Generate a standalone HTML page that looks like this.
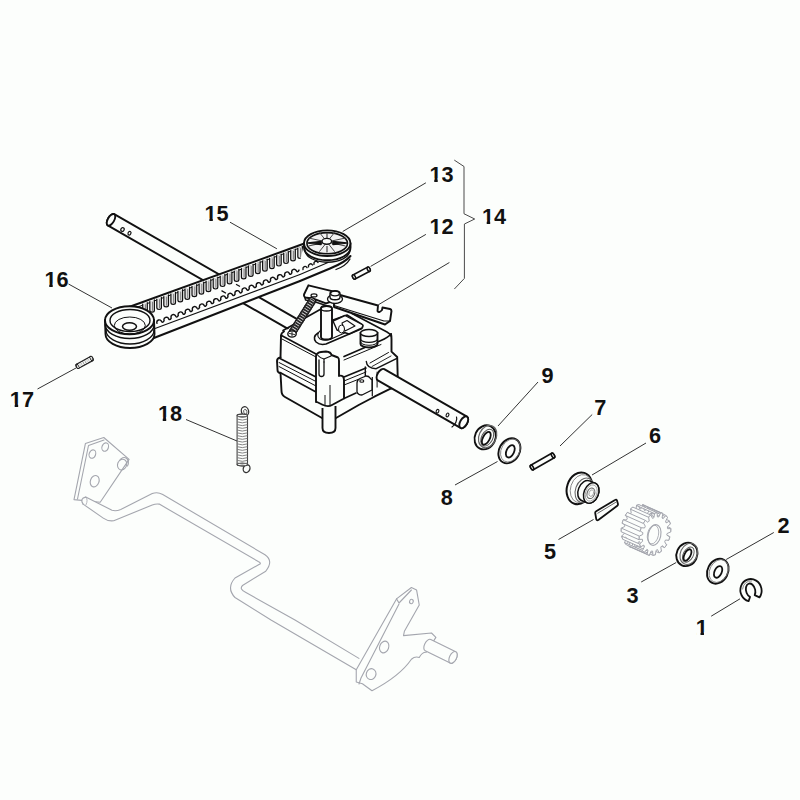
<!DOCTYPE html><html><head><meta charset="utf-8"><style>html,body{margin:0;padding:0;background:#fcfefc;}svg{display:block;}</style></head><body><svg width="800" height="800" viewBox="0 0 800 800"><rect width="800" height="800" fill="#fcfefc"/><path d="M74.0,499.6 L85.4,443.6 L103.8,437.5 L129.1,459.4 L100.2,502.2 Z" stroke="#a4a6ae" stroke-width="1.1" fill="#fcfefc" stroke-linejoin="round" stroke-linecap="round" /><path d="M77.5,499 L88.5,445.5 L104,440" stroke="#a4a6ae" stroke-width="1.1" fill="none" stroke-linejoin="round" stroke-linecap="round" /><ellipse cx="92.4" cy="454.1" rx="3.2" ry="4.3" transform="rotate(20 92.4 454.1)" stroke="#a4a6ae" stroke-width="1.1" fill="none"/><ellipse cx="105.2" cy="447.1" rx="3.2" ry="4.3" transform="rotate(20 105.2 447.1)" stroke="#a4a6ae" stroke-width="1.1" fill="none"/><ellipse cx="122.1" cy="464.6" rx="4.5" ry="5.5" transform="rotate(20 122.1 464.6)" stroke="#a4a6ae" stroke-width="1.1" fill="none"/><path d="M119.5,460.5 A4.5,5.5 20 0 1 127.5,466" stroke="#a4a6ae" stroke-width="1.1" fill="none" stroke-linejoin="round" stroke-linecap="round" /><ellipse cx="94.7" cy="481.2" rx="4.3" ry="5.8" transform="rotate(20 94.7 481.2)" stroke="#a4a6ae" stroke-width="1.1" fill="none"/><path d="M85.75,497.1 L112,510.25 Q116,511.5 120.75,509.4 L152.25,493.6 Q157.5,491.5 162.75,494.5 L265,554.75 Q274,561 265.75,571.25 L242.5,585.5 Q239,589 245.5,592.25 L295,620 L358.9,658.4 L356.25,669.75 L271,620 L235,597.5 Q226,588 235,578 L259,564.5 Q262,563.5 258.25,561.5 L159.25,504.1 Q156,503.5 152.25,505 L113.75,520.75 Q108,521.5 103.25,518.1 L83.1,504.1 Q80,499 85.75,497.1 Z" stroke="none" stroke-width="0" fill="#fcfefc" stroke-linejoin="round" stroke-linecap="round" /><path d="M85.75,497.1 L112,510.25 Q116,511.5 120.75,509.4 L152.25,493.6 Q157.5,491.5 162.75,494.5 L265,554.75 Q274,561 265.75,571.25 L242.5,585.5 Q239,589 245.5,592.25 L295,620 L358.9,658.4" stroke="#a4a6ae" stroke-width="1.1" fill="none" stroke-linejoin="round" stroke-linecap="round" /><path d="M83.1,504.1 L103.25,518.1 Q108,521.5 113.75,520.75 L152.25,505 Q156,503.5 159.25,504.1 L258.25,561.5 Q262,563.5 259,564.5 L235,578 Q226,588 235,597.5 L271,620 L356.25,669.75" stroke="#a4a6ae" stroke-width="1.1" fill="none" stroke-linejoin="round" stroke-linecap="round" /><path d="M85.75,497.1 Q79.5,498.5 83.1,504.1" stroke="#a4a6ae" stroke-width="1.1" fill="none" stroke-linejoin="round" stroke-linecap="round" /><path d="M85.75,497.1 Q88.5,499.5 86,504.8" stroke="#a4a6ae" stroke-width="0.8" fill="none" stroke-linejoin="round" stroke-linecap="round" /><path d="M411.4,587.5 L416.6,590.1 L419.25,605 L404.4,631.25 L403.5,635.6 L431.5,633 L435.9,637.4 L426.25,652.25 Q422,652 419.25,657.5 Q415,656 411.4,659.25 Q400,676 372,690.75 L362.4,683.75 L356.25,682 L356.25,669.75 L396.5,598.9 Z" stroke="#a4a6ae" stroke-width="1.1" fill="#fcfefc" stroke-linejoin="round" stroke-linecap="round" /><path d="M396.5,598.9 L399,603 L411.4,590" stroke="#a4a6ae" stroke-width="1.1" fill="none" stroke-linejoin="round" stroke-linecap="round" /><path d="M359,684 L361,678 L399,604" stroke="#a4a6ae" stroke-width="1.1" fill="none" stroke-linejoin="round" stroke-linecap="round" /><ellipse cx="411.4" cy="601.5" rx="1.8" ry="2.2" transform="rotate(20 411.4 601.5)" stroke="#a4a6ae" stroke-width="1.1" fill="none"/><ellipse cx="384.2" cy="647.0" rx="4.5" ry="6.0" transform="rotate(20 384.2 647.0)" stroke="#a4a6ae" stroke-width="1.1" fill="none"/><ellipse cx="371.1" cy="674.1" rx="4.8" ry="5.5" transform="rotate(20 371.1 674.1)" stroke="#a4a6ae" stroke-width="1.1" fill="#fcfefc"/><g transform="translate(428.0,645.2) rotate(26.10)"><path d="M0,-6.3 L27.839944324656972,-6.3 A3.5,6.3 0 0 1 27.839944324656972,6.3 L0,6.3 A3.5,6.3 0 0 1 0,-6.3 Z" fill="#fcfefc" stroke="#a4a6ae" stroke-width="1.1" stroke-linejoin="round"/><ellipse cx="27.839944324656972" cy="0" rx="3.5" ry="6.3" fill="#fcfefc" stroke="#a4a6ae" stroke-width="1.1"/></g><g transform="translate(111.0,219.8) rotate(29.86)"><path d="M0,-6.5 L217.92249125778642,-6.5 A3.2,6.5 0 0 1 217.92249125778642,6.5 L0,6.5 A3.2,6.5 0 0 1 0,-6.5 Z" fill="#fcfefc" stroke="#111" stroke-width="1.9" stroke-linejoin="round"/><ellipse cx="0" cy="0" rx="3.2" ry="6.5" fill="#fcfefc" stroke="#111" stroke-width="1.9"/></g><ellipse cx="122.5" cy="229.5" rx="1.6" ry="2.0" transform="rotate(25 122.5 229.5)" stroke="#111" stroke-width="1.2" fill="none"/><ellipse cx="129.5" cy="233.2" rx="1.4" ry="1.9" transform="rotate(25 129.5 233.2)" stroke="#111" stroke-width="1.2" fill="none"/><path d="M133.0,305.5 L304.0,243.7 L330.0,262.0 L300.0,281.0 L150.0,339.0 Z" stroke="none" stroke-width="0" fill="#fcfefc" stroke-linejoin="round" stroke-linecap="round" /><line x1="120.0" y1="310.3" x2="305.0" y2="243.3" stroke="#111" stroke-width="2.0" /><line x1="135.0" y1="308.0" x2="305.0" y2="246.0" stroke="#111" stroke-width="1.0" /><path d="M142.7,304.1 L142.7,312.7 Q142.7,314.6 145.0,314.6 Q147.3,314.6 147.3,312.7 L147.3,302.5" stroke="#111" stroke-width="1.2" fill="#e0e0e0" stroke-linejoin="round" stroke-linecap="round" /><line x1="145.4" y1="304.3" x2="145.4" y2="313.3" stroke="#555" stroke-width="0.7" /><path d="M149.8,301.6 L149.8,310.2 Q149.8,312.1 152.1,312.1 Q154.4,312.1 154.4,310.2 L154.4,299.9" stroke="#111" stroke-width="1.2" fill="#e0e0e0" stroke-linejoin="round" stroke-linecap="round" /><line x1="152.5" y1="301.8" x2="152.5" y2="310.8" stroke="#555" stroke-width="0.7" /><path d="M156.8,299.0 L156.8,307.6 Q156.8,309.5 159.1,309.5 Q161.4,309.5 161.4,307.6 L161.4,297.4" stroke="#111" stroke-width="1.2" fill="#e0e0e0" stroke-linejoin="round" stroke-linecap="round" /><line x1="159.5" y1="299.2" x2="159.5" y2="308.2" stroke="#555" stroke-width="0.7" /><path d="M163.8,296.5 L163.8,305.0 Q163.8,306.9 166.2,306.9 Q168.5,306.9 168.5,305.0 L168.5,294.8" stroke="#111" stroke-width="1.2" fill="#e0e0e0" stroke-linejoin="round" stroke-linecap="round" /><line x1="166.6" y1="296.7" x2="166.6" y2="305.6" stroke="#555" stroke-width="0.7" /><path d="M170.9,293.9 L170.9,302.5 Q170.9,304.4 173.2,304.4 Q175.5,304.4 175.5,302.5 L175.5,292.3" stroke="#111" stroke-width="1.2" fill="#e0e0e0" stroke-linejoin="round" stroke-linecap="round" /><line x1="173.6" y1="294.1" x2="173.6" y2="303.1" stroke="#555" stroke-width="0.7" /><path d="M177.9,291.4 L177.9,299.9 Q177.9,301.8 180.2,301.8 Q182.6,301.8 182.6,299.9 L182.6,289.7" stroke="#111" stroke-width="1.2" fill="#e0e0e0" stroke-linejoin="round" stroke-linecap="round" /><line x1="180.7" y1="291.6" x2="180.7" y2="300.5" stroke="#555" stroke-width="0.7" /><path d="M185.0,288.8 L185.0,297.4 Q185.0,299.3 187.3,299.3 Q189.6,299.3 189.6,297.4 L189.6,287.2" stroke="#111" stroke-width="1.2" fill="#e0e0e0" stroke-linejoin="round" stroke-linecap="round" /><line x1="187.7" y1="289.0" x2="187.7" y2="298.0" stroke="#555" stroke-width="0.7" /><path d="M192.0,286.3 L192.0,294.8 Q192.0,296.7 194.3,296.7 Q196.7,296.7 196.7,294.8 L196.7,284.6" stroke="#111" stroke-width="1.2" fill="#e0e0e0" stroke-linejoin="round" stroke-linecap="round" /><line x1="194.8" y1="286.5" x2="194.8" y2="295.4" stroke="#555" stroke-width="0.7" /><path d="M199.1,283.8 L199.1,292.3 Q199.1,294.2 201.4,294.2 Q203.7,294.2 203.7,292.3 L203.7,282.1" stroke="#111" stroke-width="1.2" fill="#e0e0e0" stroke-linejoin="round" stroke-linecap="round" /><line x1="201.8" y1="283.9" x2="201.8" y2="292.9" stroke="#555" stroke-width="0.7" /><path d="M206.1,281.2 L206.1,289.7 Q206.1,291.6 208.4,291.6 Q210.8,291.6 210.8,289.7 L210.8,279.5" stroke="#111" stroke-width="1.2" fill="#e0e0e0" stroke-linejoin="round" stroke-linecap="round" /><line x1="208.8" y1="281.4" x2="208.8" y2="290.3" stroke="#555" stroke-width="0.7" /><path d="M213.2,278.7 L213.2,287.1 Q213.2,289.0 215.5,289.0 Q217.8,289.0 217.8,287.1 L217.8,277.0" stroke="#111" stroke-width="1.2" fill="#e0e0e0" stroke-linejoin="round" stroke-linecap="round" /><line x1="215.9" y1="278.8" x2="215.9" y2="287.7" stroke="#555" stroke-width="0.7" /><path d="M220.2,276.1 L220.2,284.6 Q220.2,286.5 222.6,286.5 Q224.9,286.5 224.9,284.6 L224.9,274.4" stroke="#111" stroke-width="1.2" fill="#e0e0e0" stroke-linejoin="round" stroke-linecap="round" /><line x1="223.0" y1="276.3" x2="223.0" y2="285.2" stroke="#555" stroke-width="0.7" /><path d="M227.3,273.6 L227.3,282.0 Q227.3,283.9 229.6,283.9 Q231.9,283.9 231.9,282.0 L231.9,271.9" stroke="#111" stroke-width="1.2" fill="#e0e0e0" stroke-linejoin="round" stroke-linecap="round" /><line x1="230.0" y1="273.7" x2="230.0" y2="282.6" stroke="#555" stroke-width="0.7" /><path d="M234.3,271.0 L234.3,279.5 Q234.3,281.4 236.6,281.4 Q238.9,281.4 238.9,279.5 L238.9,269.4" stroke="#111" stroke-width="1.2" fill="#e0e0e0" stroke-linejoin="round" stroke-linecap="round" /><line x1="237.0" y1="271.2" x2="237.0" y2="280.1" stroke="#555" stroke-width="0.7" /><path d="M241.4,268.5 L241.4,276.9 Q241.4,278.8 243.7,278.8 Q246.0,278.8 246.0,276.9 L246.0,266.8" stroke="#111" stroke-width="1.2" fill="#e0e0e0" stroke-linejoin="round" stroke-linecap="round" /><line x1="244.1" y1="268.6" x2="244.1" y2="277.5" stroke="#555" stroke-width="0.7" /><path d="M248.4,265.9 L248.4,274.4 Q248.4,276.3 250.8,276.3 Q253.1,276.3 253.1,274.4 L253.1,264.3" stroke="#111" stroke-width="1.2" fill="#e0e0e0" stroke-linejoin="round" stroke-linecap="round" /><line x1="251.2" y1="266.1" x2="251.2" y2="275.0" stroke="#555" stroke-width="0.7" /><path d="M255.5,263.4 L255.5,271.8 Q255.5,273.7 257.8,273.7 Q260.1,273.7 260.1,271.8 L260.1,261.7" stroke="#111" stroke-width="1.2" fill="#e0e0e0" stroke-linejoin="round" stroke-linecap="round" /><line x1="258.2" y1="263.5" x2="258.2" y2="272.4" stroke="#555" stroke-width="0.7" /><path d="M262.6,260.8 L262.6,269.2 Q262.6,271.1 264.9,271.1 Q267.2,271.1 267.2,269.2 L267.2,259.2" stroke="#111" stroke-width="1.2" fill="#e0e0e0" stroke-linejoin="round" stroke-linecap="round" /><line x1="265.2" y1="261.0" x2="265.2" y2="269.8" stroke="#555" stroke-width="0.7" /><path d="M269.6,258.3 L269.6,266.7 Q269.6,268.6 271.9,268.6 Q274.2,268.6 274.2,266.7 L274.2,256.6" stroke="#111" stroke-width="1.2" fill="#e0e0e0" stroke-linejoin="round" stroke-linecap="round" /><line x1="272.3" y1="258.4" x2="272.3" y2="267.3" stroke="#555" stroke-width="0.7" /><path d="M276.6,255.7 L276.6,264.1 Q276.6,266.0 278.9,266.0 Q281.2,266.0 281.2,264.1 L281.2,254.1" stroke="#111" stroke-width="1.2" fill="#e0e0e0" stroke-linejoin="round" stroke-linecap="round" /><line x1="279.3" y1="255.9" x2="279.3" y2="264.7" stroke="#555" stroke-width="0.7" /><path d="M283.7,253.2 L283.7,261.6 Q283.7,263.5 286.0,263.5 Q288.3,263.5 288.3,261.6 L288.3,251.5" stroke="#111" stroke-width="1.2" fill="#e0e0e0" stroke-linejoin="round" stroke-linecap="round" /><line x1="286.4" y1="253.3" x2="286.4" y2="262.2" stroke="#555" stroke-width="0.7" /><path d="M290.7,250.6 L290.7,259.0 Q290.7,260.9 293.0,260.9 Q295.3,260.9 295.3,259.0 L295.3,249.0" stroke="#111" stroke-width="1.2" fill="#e0e0e0" stroke-linejoin="round" stroke-linecap="round" /><line x1="293.4" y1="250.8" x2="293.4" y2="259.6" stroke="#555" stroke-width="0.7" /><path d="M297.8,248.1 L297.8,256.5 Q297.8,258.4 300.1,258.4 Q302.4,258.4 302.4,256.5 L302.4,246.4" stroke="#111" stroke-width="1.2" fill="#e0e0e0" stroke-linejoin="round" stroke-linecap="round" /><line x1="300.5" y1="248.2" x2="300.5" y2="257.1" stroke="#555" stroke-width="0.7" /><line x1="221.5" y1="290.6" x2="226.0" y2="293.2" stroke="#111" stroke-width="1.3" /><line x1="236.0" y1="284.2" x2="240.0" y2="286.5" stroke="#111" stroke-width="1.3" /><path d=" M157.0,323.4 A2.4,2.6 0 0 1 161.6,321.6 Q162.8,323.2 164.1,320.7 M164.1,320.7 A2.4,2.6 0 0 1 168.7,319.0 Q169.9,320.6 171.2,318.1 M171.2,318.1 A2.4,2.6 0 0 1 175.8,316.3 Q177.0,317.9 178.3,315.4 M178.3,315.4 A2.4,2.6 0 0 1 182.9,313.7 Q184.2,315.3 185.4,312.7 M185.4,312.7 A2.4,2.6 0 0 1 190.0,311.0 Q191.2,312.6 192.5,310.1 M192.5,310.1 A2.4,2.6 0 0 1 197.1,308.3 Q198.3,309.9 199.6,307.4 M199.6,307.4 A2.4,2.6 0 0 1 204.2,305.7 Q205.4,307.3 206.7,304.7 M206.7,304.7 A2.4,2.6 0 0 1 211.3,303.0 Q212.5,304.6 213.8,302.1 M213.8,302.1 A2.4,2.6 0 0 1 218.4,300.4 Q219.7,302.0 220.9,299.4 M220.9,299.4 A2.4,2.6 0 0 1 225.5,297.7 Q226.8,299.3 228.0,296.8 M228.0,296.8 A2.4,2.6 0 0 1 232.6,295.0 Q233.8,296.6 235.1,294.1 M235.1,294.1 A2.4,2.6 0 0 1 239.7,292.4 Q240.9,294.0 242.2,291.4 M242.2,291.4 A2.4,2.6 0 0 1 246.8,289.7 Q248.0,291.3 249.3,288.8 M249.3,288.8 A2.4,2.6 0 0 1 253.9,287.0 Q255.2,288.6 256.4,286.1 M256.4,286.1 A2.4,2.6 0 0 1 261.0,284.4 Q262.2,286.0 263.5,283.4 M263.5,283.4 A2.4,2.6 0 0 1 268.1,281.7 Q269.4,283.3 270.6,280.8 M270.6,280.8 A2.4,2.6 0 0 1 275.2,279.0 Q276.5,280.6 277.7,278.1 M277.7,278.1 A2.4,2.6 0 0 1 282.3,276.4 Q283.6,278.0 284.8,275.4 M284.8,275.4 A2.4,2.6 0 0 1 289.4,273.7 Q290.7,275.3 291.9,272.8 M291.9,272.8 A2.4,2.6 0 0 1 296.5,271.1 Q297.8,272.7 299.0,270.1" stroke="#111" stroke-width="1.4" fill="none" stroke-linejoin="round" stroke-linecap="round" /><line x1="155.0" y1="328.5" x2="300.0" y2="274.5" stroke="#111" stroke-width="1.1" /><line x1="150.0" y1="339.5" x2="300.0" y2="281.0" stroke="#111" stroke-width="2.0" /><path d="M105,320.3 L105.5,334 A24.5,14 0 0 0 154.5,334 L154,320.3 Z" fill="#fcfefc" stroke="#111" stroke-width="1.9"/><path d="M105.2,324.5 A24.5,14 0 0 0 154.2,324.5" stroke="#111" stroke-width="1.5" fill="none" stroke-linejoin="round" stroke-linecap="round" /><path d="M106,330 A24,14 0 0 0 154,330" stroke="#111" stroke-width="1.3" fill="none" stroke-linejoin="round" stroke-linecap="round" /><ellipse cx="129.5" cy="320.3" rx="24.5" ry="14.0" transform="rotate(0 129.5 320.3)" stroke="#111" stroke-width="1.9" fill="#fcfefc"/><ellipse cx="130.0" cy="320.5" rx="20.0" ry="11.0" transform="rotate(0 130.0 320.5)" stroke="#111" stroke-width="1.4" fill="none"/><ellipse cx="129.8" cy="325.5" rx="15.5" ry="8.5" transform="rotate(0 129.8 325.5)" stroke="#111" stroke-width="1.0" fill="none"/><ellipse cx="129.5" cy="326.5" rx="7.0" ry="3.8" transform="rotate(0 129.5 326.5)" stroke="#111" stroke-width="1.5" fill="#fcfefc"/><path d="M300,281 L330,268.5 Q345,262 350.5,256 L350.5,243 L304,243 L300,262 Z" stroke="none" stroke-width="0" fill="#fcfefc" stroke-linejoin="round" stroke-linecap="round" /><path d="M304,243.25 L304,247.5 A23.25,12.75 0 0 0 350.5,247.5 L350.5,243.25" stroke="#111" stroke-width="1.9" fill="none" stroke-linejoin="round" stroke-linecap="round" /><path d="M305,250 A22.5,12 0 0 0 350,250.5" stroke="#111" stroke-width="1.3" fill="none" stroke-linejoin="round" stroke-linecap="round" /><path d="M300,281 L330,268.5 Q345,262.5 350.5,256" stroke="#111" stroke-width="2.0" fill="none" stroke-linejoin="round" stroke-linecap="round" /><path d="M300,274.5 L328,262.5" stroke="#111" stroke-width="1.2" fill="none" stroke-linejoin="round" stroke-linecap="round" /><path d="M336,269.5 Q346,266 350,259" stroke="#111" stroke-width="1.3" fill="none" stroke-linejoin="round" stroke-linecap="round" /><path d=" M303.0,269.5 A2.2,2.4 0 0 1 307.0,267.6 M308.5,266.9 A2.2,2.4 0 0 1 312.5,265.0 M314.0,264.3 A2.2,2.4 0 0 1 318.0,262.4" stroke="#111" stroke-width="1.4" fill="none" stroke-linejoin="round" stroke-linecap="round" /><ellipse cx="327.2" cy="243.2" rx="23.2" ry="12.8" transform="rotate(0 327.2 243.2)" stroke="#111" stroke-width="1.9" fill="#fcfefc"/><ellipse cx="327.2" cy="243.2" rx="20.3" ry="10.6" transform="rotate(0 327.2 243.2)" stroke="#111" stroke-width="1.6" fill="#f2f2f2"/><line x1="327.0" y1="242.0" x2="345.5" y2="246.0" stroke="#444" stroke-width="1.0" /><line x1="327.0" y1="242.0" x2="334.7" y2="251.7" stroke="#444" stroke-width="1.0" /><line x1="327.0" y1="242.0" x2="319.3" y2="251.7" stroke="#444" stroke-width="1.0" /><line x1="327.0" y1="242.0" x2="308.5" y2="246.0" stroke="#444" stroke-width="1.0" /><line x1="327.0" y1="242.0" x2="308.5" y2="238.0" stroke="#444" stroke-width="1.0" /><line x1="327.0" y1="242.0" x2="319.3" y2="232.3" stroke="#444" stroke-width="1.0" /><line x1="327.0" y1="242.0" x2="334.7" y2="232.3" stroke="#444" stroke-width="1.0" /><line x1="327.0" y1="242.0" x2="345.5" y2="238.0" stroke="#444" stroke-width="1.0" /><path d="M308,243 L321,241.5 L321,244.5 Z" stroke="#111" stroke-width="1.6" fill="#111" stroke-linejoin="round" stroke-linecap="round" /><path d="M346.5,243 L333,241.5 L333,244.5 Z" stroke="#111" stroke-width="1.6" fill="#111" stroke-linejoin="round" stroke-linecap="round" /><line x1="327.0" y1="233.0" x2="327.0" y2="238.0" stroke="#444" stroke-width="1.2" /><line x1="327.0" y1="246.0" x2="327.0" y2="252.5" stroke="#444" stroke-width="1.2" /><ellipse cx="326.8" cy="241.3" rx="4.8" ry="2.9" transform="rotate(0 326.8 241.3)" stroke="#111" stroke-width="1.4" fill="#fcfefc"/><path d="M281.0,333.0 L290.0,328.0 L321.0,309.0 L345.0,302.0 L391.0,334.0 L392.0,352.0 L398.5,359.0 L398.6,376.0 L392.5,390.0 L382.0,390.0 L336.0,418.0 L322.0,418.0 L282.0,396.0 L278.0,372.0 L277.0,359.0 L280.0,357.0 Z" stroke="none" stroke-width="0" fill="#fcfefc" stroke-linejoin="round" stroke-linecap="round" /><path d="M281,336 Q281,333 284,331.5" stroke="#111" stroke-width="1.9" fill="none" stroke-linejoin="round" stroke-linecap="round" /><path d="M283,330.5 L321,309" stroke="#111" stroke-width="1.6" fill="none" stroke-linejoin="round" stroke-linecap="round" /><path d="M281.5,335.5 L316,354" stroke="#111" stroke-width="1.7" fill="none" stroke-linejoin="round" stroke-linecap="round" /><path d="M282,339 L316,357" stroke="#111" stroke-width="1.0" fill="none" stroke-linejoin="round" stroke-linecap="round" /><path d="M281,336 L280.5,357.5" stroke="#111" stroke-width="1.9" fill="none" stroke-linejoin="round" stroke-linecap="round" /><path d="M280.5,357.5 Q277,358 277,361 L277.5,370 Q277.5,372.5 280,373" stroke="#111" stroke-width="1.9" fill="none" stroke-linejoin="round" stroke-linecap="round" /><path d="M280,358.5 L316,377" stroke="#111" stroke-width="1.6" fill="none" stroke-linejoin="round" stroke-linecap="round" /><path d="M279,362.5 L316,381.5" stroke="#111" stroke-width="1.0" fill="none" stroke-linejoin="round" stroke-linecap="round" /><path d="M279,366.5 L316,386" stroke="#111" stroke-width="1.0" fill="none" stroke-linejoin="round" stroke-linecap="round" /><path d="M280,372.5 L316,392" stroke="#111" stroke-width="1.6" fill="none" stroke-linejoin="round" stroke-linecap="round" /><path d="M280.5,373 L281.5,391 Q281.5,395 285,397 L322,418" stroke="#111" stroke-width="1.9" fill="none" stroke-linejoin="round" stroke-linecap="round" /><path d="M344,356.5 L381,340.5 Q388,337.5 391,334" stroke="#111" stroke-width="1.7" fill="none" stroke-linejoin="round" stroke-linecap="round" /><path d="M344,360 L381,344.5" stroke="#111" stroke-width="1.0" fill="none" stroke-linejoin="round" stroke-linecap="round" /><path d="M344,377 L366,368" stroke="#111" stroke-width="1.6" fill="none" stroke-linejoin="round" stroke-linecap="round" /><path d="M344,381 L366,372" stroke="#111" stroke-width="1.0" fill="none" stroke-linejoin="round" stroke-linecap="round" /><path d="M344,385 L358,379.5" stroke="#111" stroke-width="1.0" fill="none" stroke-linejoin="round" stroke-linecap="round" /><path d="M344,398.5 L356,393" stroke="#111" stroke-width="1.6" fill="none" stroke-linejoin="round" stroke-linecap="round" /><path d="M336,418 L358.7,405 L372,398 L375.4,396.2 L391.1,388.4" stroke="#111" stroke-width="1.9" fill="none" stroke-linejoin="round" stroke-linecap="round" /><path d="M391,334 Q391.5,336 391.5,339 L391.5,351.6 L397.2,357 L397.7,377 L391.1,388.4" stroke="#111" stroke-width="1.9" fill="none" stroke-linejoin="round" stroke-linecap="round" /><path d="M365.3,367 L365.3,376" stroke="#111" stroke-width="1.4" fill="none" stroke-linejoin="round" stroke-linecap="round" /><path d="M366.3,361.5 Q366.8,368.5 376.2,368.7 L396.4,358.6" stroke="#111" stroke-width="1.4" fill="none" stroke-linejoin="round" stroke-linecap="round" /><path d="M370,363 L388.5,352.5" stroke="#111" stroke-width="1.0" fill="none" stroke-linejoin="round" stroke-linecap="round" /><path d="M372,366.5 L391,356" stroke="#111" stroke-width="0.9" fill="none" stroke-linejoin="round" stroke-linecap="round" /><line x1="377.1" y1="371.7" x2="377.1" y2="387.5" stroke="#111" stroke-width="1.0" /><line x1="372.3" y1="377.0" x2="372.3" y2="396.2" stroke="#111" stroke-width="1.2" /><path d="M357,388 L357,383 Q357,380 360,378.5 L366,376 Q369,376 370,378 L372,380 L372,390 L362,395 Q358,395 357,392 Z" stroke="#111" stroke-width="1.3" fill="#fcfefc" stroke-linejoin="round" stroke-linecap="round" /><ellipse cx="361.8" cy="381.0" rx="2.0" ry="1.3" transform="rotate(0 361.8 381.0)" stroke="#111" stroke-width="1.1" fill="none"/><path d="M318,333 Q312,337 316,342 Q320,345.5 326,344 L361,329 Q364,327 362,324.5 L347,315 L333,320" stroke="#111" stroke-width="1.6" fill="#fcfefc" stroke-linejoin="round" stroke-linecap="round" /><path d="M321,330 Q315,335 320,339 Q324,341 330,339.5 L358,327" stroke="#111" stroke-width="1.1" fill="none" stroke-linejoin="round" stroke-linecap="round" /><path d="M333.0,321.0 L345.0,315.5 L363.0,325.0 L362.0,328.0 L349.0,334.0 L337.0,330.0 Z" stroke="#111" stroke-width="1.4" fill="#fcfefc" stroke-linejoin="round" stroke-linecap="round" /><path d="M342.0,323.0 L347.0,320.5 L355.0,326.0 L345.0,331.0 Z" stroke="#111" stroke-width="1.1" fill="none" stroke-linejoin="round" stroke-linecap="round" /><ellipse cx="341.5" cy="329.0" rx="3.0" ry="4.0" transform="rotate(0 341.5 329.0)" stroke="#111" stroke-width="1.0" fill="#fcfefc"/><path d="M321,337 L321,308.5 A5.5,2.5 0 0 1 332,308.5 L332,337 A5.5,2.5 0 0 1 321,337 Z" fill="#fcfefc" stroke="#111" stroke-width="1.9"/><ellipse cx="326.5" cy="308.5" rx="5.5" ry="2.5" transform="rotate(0 326.5 308.5)" stroke="#111" stroke-width="1.3" fill="none"/><path d="M360.5,333 L360.5,344 A8.5,3.5 0 0 0 377.5,344 L377.5,333 Z" fill="#fcfefc" stroke="#111" stroke-width="1.9"/><path d="M360.5,339 A8.5,3.3 0 0 0 377.5,339" stroke="#111" stroke-width="1.2" fill="none" stroke-linejoin="round" stroke-linecap="round" /><path d="M360.5,342 A8.5,3.3 0 0 0 377.5,342" stroke="#111" stroke-width="1.0" fill="none" stroke-linejoin="round" stroke-linecap="round" /><ellipse cx="369.0" cy="333.0" rx="8.5" ry="3.5" transform="rotate(0 369.0 333.0)" stroke="#111" stroke-width="1.6" fill="#fcfefc"/><path d="M322.5,408 L322.5,428 Q322.5,433 329,433 Q335.5,433 335.5,428 L335.5,406" fill="#fcfefc" stroke="#111" stroke-width="1.9"/><path d="M316,402 L316,356 Q317,352.5 321,352 L326,351.5 Q331,352 331.5,355 L338,357.5 Q339,358 339,361 L339,376 Q341,375 343,376.5 Q344,378 344,380 L344,398.5 L332,405 Q328,407.5 322,404.5 L316,401.5" stroke="#111" stroke-width="1.9" fill="#fcfefc" stroke-linejoin="round" stroke-linecap="round" /><path d="M319,360 L319,374 Q319,376.5 321.5,376.5 Q324,376.5 324,374 L324,362" stroke="#111" stroke-width="1.3" fill="none" stroke-linejoin="round" stroke-linecap="round" /><path d="M318,355.5 Q320,358 324,359 L331,356" stroke="#111" stroke-width="1.2" fill="none" stroke-linejoin="round" stroke-linecap="round" /><path d="M324,359 L324,362" stroke="#111" stroke-width="1.2" fill="none" stroke-linejoin="round" stroke-linecap="round" /><line x1="330.0" y1="385.0" x2="330.0" y2="405.0" stroke="#111" stroke-width="1.0" /><line x1="325.0" y1="395.0" x2="325.0" y2="405.0" stroke="#111" stroke-width="1.0" /><path d="M352,313.5 L387,332 Q390.5,334 391,336" stroke="#111" stroke-width="1.6" fill="none" stroke-linejoin="round" stroke-linecap="round" /><path d="M308.4,285.3 L332,291.2 L336,300 L326,303.3 L314,298.8 L305,297.5 Q303.5,296 304,294.5 Z" stroke="#111" stroke-width="1.9" fill="#fcfefc" stroke-linejoin="round" stroke-linecap="round" /><path d="M305,297.5 L305.5,300 L314,301.5 L326,305.5" stroke="#111" stroke-width="1.4" fill="none" stroke-linejoin="round" stroke-linecap="round" /><ellipse cx="314.0" cy="295.4" rx="3.0" ry="1.5" transform="rotate(0 314.0 295.4)" stroke="#111" stroke-width="1.2" fill="none"/><path d="M334,293 L340,295 L378,305.5 L377.5,311 Q379,313.5 382,310 L382.5,307.5 L390,309 Q391.5,309.5 391.5,311 L390,321 L385,324.5 L334,307 Z" stroke="#111" stroke-width="1.9" fill="#fcfefc" stroke-linejoin="round" stroke-linecap="round" /><path d="M334,305.5 L384,321 L390,321" stroke="#111" stroke-width="1.2" fill="none" stroke-linejoin="round" stroke-linecap="round" /><ellipse cx="335.0" cy="299.0" rx="7.5" ry="4.5" transform="rotate(0 335.0 299.0)" stroke="#111" stroke-width="1.3" fill="#fcfefc"/><path d="M330,297 L330,293.5 A5,2.8 0 0 1 340,293.5 L340,297 A5,2.8 0 0 1 330,297 Z" fill="#fcfefc" stroke="#111" stroke-width="1.4"/><ellipse cx="335.0" cy="293.5" rx="4.3" ry="2.3" transform="rotate(0 335.0 293.5)" stroke="#111" stroke-width="1.2" fill="none"/><g transform="translate(292.3,332.5) rotate(-57.92)"><path d="M0,-3.4 L38.594559202042966,-3.4 A1.53,3.4 0 0 1 38.594559202042966,3.4 L0,3.4 A1.53,3.4 0 0 1 0,-3.4 Z" fill="#ccc" stroke="#111" stroke-width="1.2" stroke-linejoin="round"/></g><ellipse cx="293.0" cy="331.4" rx="3.5" ry="1.1" transform="rotate(32 293.0 331.4)" stroke="#222" stroke-width="1.1" fill="none"/><ellipse cx="294.4" cy="329.2" rx="3.5" ry="1.1" transform="rotate(32 294.4 329.2)" stroke="#222" stroke-width="1.1" fill="none"/><ellipse cx="295.7" cy="327.1" rx="3.5" ry="1.1" transform="rotate(32 295.7 327.1)" stroke="#222" stroke-width="1.1" fill="none"/><ellipse cx="297.1" cy="324.9" rx="3.5" ry="1.1" transform="rotate(32 297.1 324.9)" stroke="#222" stroke-width="1.1" fill="none"/><ellipse cx="298.4" cy="322.7" rx="3.5" ry="1.1" transform="rotate(32 298.4 322.7)" stroke="#222" stroke-width="1.1" fill="none"/><ellipse cx="299.8" cy="320.5" rx="3.5" ry="1.1" transform="rotate(32 299.8 320.5)" stroke="#222" stroke-width="1.1" fill="none"/><ellipse cx="301.2" cy="318.3" rx="3.5" ry="1.1" transform="rotate(32 301.2 318.3)" stroke="#222" stroke-width="1.1" fill="none"/><ellipse cx="302.6" cy="316.1" rx="3.5" ry="1.1" transform="rotate(32 302.6 316.1)" stroke="#222" stroke-width="1.1" fill="none"/><ellipse cx="303.9" cy="314.0" rx="3.5" ry="1.1" transform="rotate(32 303.9 314.0)" stroke="#222" stroke-width="1.1" fill="none"/><ellipse cx="305.3" cy="311.8" rx="3.5" ry="1.1" transform="rotate(32 305.3 311.8)" stroke="#222" stroke-width="1.1" fill="none"/><ellipse cx="306.7" cy="309.6" rx="3.5" ry="1.1" transform="rotate(32 306.7 309.6)" stroke="#222" stroke-width="1.1" fill="none"/><ellipse cx="308.0" cy="307.4" rx="3.5" ry="1.1" transform="rotate(32 308.0 307.4)" stroke="#222" stroke-width="1.1" fill="none"/><ellipse cx="309.4" cy="305.2" rx="3.5" ry="1.1" transform="rotate(32 309.4 305.2)" stroke="#222" stroke-width="1.1" fill="none"/><ellipse cx="310.8" cy="303.1" rx="3.5" ry="1.1" transform="rotate(32 310.8 303.1)" stroke="#222" stroke-width="1.1" fill="none"/><ellipse cx="312.1" cy="300.9" rx="3.5" ry="1.1" transform="rotate(32 312.1 300.9)" stroke="#222" stroke-width="1.1" fill="none"/><ellipse cx="292.0" cy="334.0" rx="4.2" ry="3.1" transform="rotate(0 292.0 334.0)" stroke="#111" stroke-width="1.4" fill="#fcfefc"/><path d="M289.5,333.5 L294.5,334.5 M292,332 L292,336" stroke="#111" stroke-width="0.9" fill="none" stroke-linejoin="round" stroke-linecap="round" /><g transform="translate(381.0,374.8) rotate(29.86)"><path d="M0,-6.5 L95.4131542411737,-6.5 A3.5,6.5 0 0 1 95.4131542411737,6.5 L0,6.5 A3.5,6.5 0 0 1 0,-6.5 Z" fill="#fcfefc" stroke="#111" stroke-width="1.9" stroke-linejoin="round"/><ellipse cx="95.4131542411737" cy="0" rx="3.5" ry="6.5" fill="#fcfefc" stroke="#111" stroke-width="1.9"/></g><path d="M456.5,417 A3.3,6.5 29.8 0 1 452,427" stroke="#111" stroke-width="1.2" fill="none" stroke-linejoin="round" stroke-linecap="round" /><ellipse cx="437.5" cy="411.2" rx="1.3" ry="1.8" transform="rotate(25 437.5 411.2)" stroke="#111" stroke-width="1.1" fill="none"/><ellipse cx="447.5" cy="415.0" rx="1.3" ry="2.0" transform="rotate(25 447.5 415.0)" stroke="#111" stroke-width="1.1" fill="none"/><ellipse cx="485.2" cy="437.3" rx="10.3" ry="12.4" transform="rotate(25 485.2 437.3)" stroke="#111" stroke-width="1.9" fill="#fcfefc"/><ellipse cx="487.6" cy="436.6" rx="8.6" ry="11.6" transform="rotate(25 487.6 436.6)" stroke="#666" stroke-width="1.2" fill="none"/><ellipse cx="487.2" cy="437.6" rx="5.6" ry="9.0" transform="rotate(28 487.2 437.6)" stroke="#555" stroke-width="1.0" fill="none"/><ellipse cx="486.3" cy="438.3" rx="3.4" ry="7.0" transform="rotate(28 486.3 438.3)" stroke="#111" stroke-width="1.8" fill="#fcfefc"/><ellipse cx="509.4" cy="450.8" rx="10.2" ry="13.2" transform="rotate(30 509.4 450.8)" stroke="#111" stroke-width="1.9" fill="#fcfefc"/><ellipse cx="510.4" cy="450.5" rx="9.0" ry="12.2" transform="rotate(30 510.4 450.5)" stroke="#777" stroke-width="0.8" fill="none"/><ellipse cx="510.3" cy="451.3" rx="3.8" ry="6.6" transform="rotate(25 510.3 451.3)" stroke="#111" stroke-width="1.8" fill="#fcfefc"/><g transform="translate(532.0,467.5) rotate(-29.74)"><path d="M0,-2.6 L24.186773244895647,-2.6 A1.3,2.6 0 0 1 24.186773244895647,2.6 L0,2.6 A1.3,2.6 0 0 1 0,-2.6 Z" fill="#fcfefc" stroke="#111" stroke-width="1.6" stroke-linejoin="round"/><ellipse cx="0" cy="0" rx="1.3" ry="2.6" fill="#fcfefc" stroke="#111" stroke-width="1.6"/><ellipse cx="24.186773244895647" cy="0" rx="1.3" ry="2.6" fill="#fcfefc" stroke="#111" stroke-width="1.6"/></g><ellipse cx="579.4" cy="488.3" rx="12.4" ry="16.2" transform="rotate(18 579.4 488.3)" stroke="#111" stroke-width="2.0" fill="#fcfefc"/><ellipse cx="581.2" cy="488.6" rx="10.6" ry="14.3" transform="rotate(18 581.2 488.6)" stroke="#888" stroke-width="0.9" fill="none"/><ellipse cx="584.5" cy="490.3" rx="9.0" ry="12.6" transform="rotate(20 584.5 490.3)" stroke="#666" stroke-width="1.0" fill="none"/><g transform="translate(585.5,490.7) rotate(21.97)"><path d="M0,-10.6 L6.14654374425177,-10.6 A7.2,10.6 0 0 1 6.14654374425177,10.6 L0,10.6 A7.2,10.6 0 0 1 0,-10.6 Z" fill="#fcfefc" stroke="#111" stroke-width="1.5" stroke-linejoin="round"/><ellipse cx="6.14654374425177" cy="0" rx="7.2" ry="10.6" fill="#fcfefc" stroke="#111" stroke-width="1.5"/></g><ellipse cx="591.2" cy="493.0" rx="5.6" ry="8.4" transform="rotate(20 591.2 493.0)" stroke="#999" stroke-width="0.8" fill="none"/><ellipse cx="590.9" cy="493.3" rx="3.7" ry="5.4" transform="rotate(20 590.9 493.3)" stroke="#666" stroke-width="1.1" fill="none"/><ellipse cx="591.3" cy="493.1" rx="2.2" ry="3.4" transform="rotate(20 591.3 493.1)" stroke="#999" stroke-width="0.8" fill="none"/><path d="M596.2,511.2 Q595,511.9 595.2,513 L596.3,519.3 Q596.8,520.8 598.3,520 L617.3,505.8 Q618.2,505 617.9,503.8 L616.9,500.3 Q616.4,499 615,499.9 Z" stroke="#111" stroke-width="1.8" fill="#fcfefc" stroke-linejoin="round" stroke-linecap="round" /><path d="M597.8,513.2 L615.6,502.4" stroke="#555" stroke-width="0.9" fill="none" stroke-linejoin="round" stroke-linecap="round" /><path d="M649.1,527.3 L651.8,529.0 L650.7,532.3 L647.5,532.0 L646.7,533.8 L648.5,536.9 L646.6,539.6 L644.1,537.7 L642.8,539.0 L643.4,543.1 L641.1,544.9 L639.5,541.6 L638.1,542.3 L637.4,546.7 L634.9,547.3 L634.6,543.1 L633.2,543.1 L631.3,547.2 L629.1,546.5 L630.0,542.1 L628.9,541.3 L626.1,544.5 L624.5,542.5 L626.5,538.5 L625.8,537.1 L622.6,538.9 L621.7,536.1 L624.6,533.1 L624.4,531.3 L621.2,531.4 L621.3,528.1 L624.6,526.6 L624.9,524.7 L622.2,523.0 L623.3,519.7 L626.5,520.0 L627.3,518.2 L625.5,515.1 L627.4,512.4 L629.9,514.3 L631.2,513.0 L630.6,508.9 L632.9,507.1 L634.5,510.4 L635.9,509.7 L636.6,505.3 L639.1,504.7 L639.4,508.9 L640.8,508.9 L642.7,504.8 L644.9,505.5 L644.0,509.9 L645.1,510.7 L647.9,507.5 L649.5,509.5 L647.5,513.5 L648.2,514.9 L651.4,513.1 L652.3,515.9 L649.4,518.9 L649.6,520.7 L652.8,520.6 L652.7,523.9 L649.4,525.4 Z" stroke="#a4a6ae" stroke-width="1.0" fill="#fcfefc" stroke-linejoin="round" stroke-linecap="round" /><path d="M651.8,529.0 L650.7,532.3 L668.7,540.3 L669.8,537.0 Z" stroke="#a4a6ae" stroke-width="1.0" fill="#fcfefc" stroke-linejoin="round" stroke-linecap="round" /><path d="M652.8,520.6 L652.7,523.9 L670.7,531.9 L670.8,528.6 Z" stroke="#a4a6ae" stroke-width="1.0" fill="#fcfefc" stroke-linejoin="round" stroke-linecap="round" /><path d="M648.5,536.9 L646.6,539.6 L664.6,547.6 L666.5,544.9 Z" stroke="#a4a6ae" stroke-width="1.0" fill="#fcfefc" stroke-linejoin="round" stroke-linecap="round" /><path d="M643.4,543.1 L641.1,544.9 L659.1,552.9 L661.4,551.1 Z" stroke="#a4a6ae" stroke-width="1.0" fill="#fcfefc" stroke-linejoin="round" stroke-linecap="round" /><path d="M651.4,513.1 L652.3,515.9 L670.3,523.9 L669.4,521.1 Z" stroke="#a4a6ae" stroke-width="1.0" fill="#fcfefc" stroke-linejoin="round" stroke-linecap="round" /><path d="M647.9,507.5 L649.5,509.5 L667.5,517.5 L665.9,515.5 Z" stroke="#a4a6ae" stroke-width="1.0" fill="#fcfefc" stroke-linejoin="round" stroke-linecap="round" /><path d="M637.4,546.7 L634.9,547.3 L652.9,555.3 L655.4,554.7 Z" stroke="#a4a6ae" stroke-width="1.0" fill="#fcfefc" stroke-linejoin="round" stroke-linecap="round" /><path d="M631.3,547.2 L629.1,546.5 L647.1,554.5 L649.3,555.2 Z" stroke="#a4a6ae" stroke-width="1.0" fill="#fcfefc" stroke-linejoin="round" stroke-linecap="round" /><path d="M642.7,504.8 L644.9,505.5 L662.9,513.5 L660.7,512.8 Z" stroke="#a4a6ae" stroke-width="1.0" fill="#fcfefc" stroke-linejoin="round" stroke-linecap="round" /><path d="M636.6,505.3 L639.1,504.7 L657.1,512.7 L654.6,513.3 Z" stroke="#a4a6ae" stroke-width="1.0" fill="#fcfefc" stroke-linejoin="round" stroke-linecap="round" /><path d="M626.1,544.5 L624.5,542.5 L642.5,550.5 L644.1,552.5 Z" stroke="#a4a6ae" stroke-width="1.0" fill="#fcfefc" stroke-linejoin="round" stroke-linecap="round" /><path d="M622.6,538.9 L621.7,536.1 L639.7,544.1 L640.6,546.9 Z" stroke="#a4a6ae" stroke-width="1.0" fill="#fcfefc" stroke-linejoin="round" stroke-linecap="round" /><path d="M630.6,508.9 L632.9,507.1 L650.9,515.1 L648.6,516.9 Z" stroke="#a4a6ae" stroke-width="1.0" fill="#fcfefc" stroke-linejoin="round" stroke-linecap="round" /><path d="M621.2,531.4 L621.3,528.1 L639.3,536.1 L639.2,539.4 Z" stroke="#a4a6ae" stroke-width="1.0" fill="#fcfefc" stroke-linejoin="round" stroke-linecap="round" /><path d="M625.5,515.1 L627.4,512.4 L645.4,520.4 L643.5,523.1 Z" stroke="#a4a6ae" stroke-width="1.0" fill="#fcfefc" stroke-linejoin="round" stroke-linecap="round" /><path d="M622.2,523.0 L623.3,519.7 L641.3,527.7 L640.2,531.0 Z" stroke="#a4a6ae" stroke-width="1.0" fill="#fcfefc" stroke-linejoin="round" stroke-linecap="round" /><path d="M667.1,535.3 L669.8,537.0 L668.7,540.3 L665.5,540.0 L664.7,541.8 L666.5,544.9 L664.6,547.6 L662.1,545.7 L660.8,547.0 L661.4,551.1 L659.1,552.9 L657.5,549.6 L656.1,550.3 L655.4,554.7 L652.9,555.3 L652.6,551.1 L651.2,551.1 L649.3,555.2 L647.1,554.5 L648.0,550.1 L646.9,549.3 L644.1,552.5 L642.5,550.5 L644.5,546.5 L643.8,545.1 L640.6,546.9 L639.7,544.1 L642.6,541.1 L642.4,539.3 L639.2,539.4 L639.3,536.1 L642.6,534.6 L642.9,532.7 L640.2,531.0 L641.3,527.7 L644.5,528.0 L645.3,526.2 L643.5,523.1 L645.4,520.4 L647.9,522.3 L649.2,521.0 L648.6,516.9 L650.9,515.1 L652.5,518.4 L653.9,517.7 L654.6,513.3 L657.1,512.7 L657.4,516.9 L658.8,516.9 L660.7,512.8 L662.9,513.5 L662.0,517.9 L663.1,518.7 L665.9,515.5 L667.5,517.5 L665.5,521.5 L666.2,522.9 L669.4,521.1 L670.3,523.9 L667.4,526.9 L667.6,528.7 L670.8,528.6 L670.7,531.9 L667.4,533.4 Z" stroke="#a4a6ae" stroke-width="1.0" fill="#fcfefc" stroke-linejoin="round" stroke-linecap="round" /><ellipse cx="654.5" cy="535.0" rx="6.3" ry="10.5" transform="rotate(12 654.5 535.0)" stroke="#a4a6ae" stroke-width="1.1" fill="#fcfefc"/><ellipse cx="653.0" cy="534.5" rx="5.5" ry="9.5" transform="rotate(12 653.0 534.5)" stroke="#a4a6ae" stroke-width="0.8" fill="none"/><ellipse cx="686.9" cy="554.4" rx="10.3" ry="12.0" transform="rotate(25 686.9 554.4)" stroke="#111" stroke-width="1.9" fill="#fcfefc"/><ellipse cx="688.8" cy="553.9" rx="8.4" ry="11.0" transform="rotate(25 688.8 553.9)" stroke="#666" stroke-width="1.1" fill="none"/><ellipse cx="688.3" cy="554.6" rx="5.0" ry="8.2" transform="rotate(28 688.3 554.6)" stroke="#555" stroke-width="0.9" fill="none"/><ellipse cx="687.5" cy="555.0" rx="3.0" ry="6.3" transform="rotate(28 687.5 555.0)" stroke="#111" stroke-width="1.8" fill="#fcfefc"/><ellipse cx="717.8" cy="571.2" rx="10.2" ry="13.0" transform="rotate(28 717.8 571.2)" stroke="#111" stroke-width="1.9" fill="#fcfefc"/><ellipse cx="718.8" cy="571.0" rx="9.0" ry="12.0" transform="rotate(28 718.8 571.0)" stroke="#777" stroke-width="0.8" fill="none"/><ellipse cx="718.1" cy="571.9" rx="3.6" ry="6.2" transform="rotate(25 718.1 571.9)" stroke="#111" stroke-width="1.8" fill="#fcfefc"/><g transform="rotate(-14 751 590.3)"><path d="M746.02,600.28 A10.6,11.3 0 1 1 757.53,599.20 L753.43,595.82 A4.6,7.0 0 1 0 748.44,596.48 Z" stroke="#111" stroke-width="1.8" fill="#fcfefc" stroke-linejoin="round" stroke-linecap="round" /><path d="M743.11,587.05 A8.4,9.5 0 0 1 753.87,581.37" stroke="#777" stroke-width="0.8" fill="none" stroke-linejoin="round" stroke-linecap="round" /></g><g transform="translate(354.0,277.0) rotate(-27.95)"><path d="M0,-2.3 L16.64121389803039,-2.3 A1.3,2.3 0 0 1 16.64121389803039,2.3 L0,2.3 A1.3,2.3 0 0 1 0,-2.3 Z" fill="#fcfefc" stroke="#111" stroke-width="1.5" stroke-linejoin="round"/><ellipse cx="0" cy="0" rx="1.3" ry="2.3" fill="#fcfefc" stroke="#111" stroke-width="1.5"/><ellipse cx="16.64121389803039" cy="0" rx="1.3" ry="2.3" fill="#fcfefc" stroke="#111" stroke-width="1.5"/></g><g transform="translate(77.6,366.3) rotate(-28.81)"><path d="M0,-2.3 L15.977797094718653,-2.3 A1.2,2.3 0 0 1 15.977797094718653,2.3 L0,2.3 A1.2,2.3 0 0 1 0,-2.3 Z" fill="#9a9a9a" stroke="#222" stroke-width="1.2" stroke-linejoin="round"/><ellipse cx="0" cy="0" rx="1.2" ry="2.3" fill="#9a9a9a" stroke="#222" stroke-width="1.2"/><ellipse cx="15.977797094718653" cy="0" rx="1.2" ry="2.3" fill="#9a9a9a" stroke="#222" stroke-width="1.2"/></g><ellipse cx="78.8" cy="365.7" rx="0.9" ry="2.1" transform="rotate(29 78.8 365.7)" stroke="#fcfefc" stroke-width="0.8" fill="none"/><ellipse cx="81.1" cy="364.4" rx="0.9" ry="2.1" transform="rotate(29 81.1 364.4)" stroke="#fcfefc" stroke-width="0.8" fill="none"/><ellipse cx="83.4" cy="363.1" rx="0.9" ry="2.1" transform="rotate(29 83.4 363.1)" stroke="#fcfefc" stroke-width="0.8" fill="none"/><ellipse cx="85.8" cy="361.8" rx="0.9" ry="2.1" transform="rotate(29 85.8 361.8)" stroke="#fcfefc" stroke-width="0.8" fill="none"/><ellipse cx="88.1" cy="360.5" rx="0.9" ry="2.1" transform="rotate(29 88.1 360.5)" stroke="#fcfefc" stroke-width="0.8" fill="none"/><ellipse cx="90.4" cy="359.2" rx="0.9" ry="2.1" transform="rotate(29 90.4 359.2)" stroke="#fcfefc" stroke-width="0.8" fill="none"/><ellipse cx="245.0" cy="411.3" rx="3.6" ry="4.6" transform="rotate(-15 245.0 411.3)" stroke="#333" stroke-width="1.3" fill="#fcfefc"/><ellipse cx="245.3" cy="411.8" rx="1.6" ry="2.4" transform="rotate(-15 245.3 411.8)" stroke="#555" stroke-width="0.9" fill="none"/><ellipse cx="246.6" cy="468.6" rx="3.3" ry="4.0" transform="rotate(20 246.6 468.6)" stroke="#333" stroke-width="1.3" fill="#fcfefc"/><g transform="translate(242.3,415.5) rotate(90.00)"><path d="M0,-5.2 L49.0,-5.2 A1.4,5.2 0 0 1 49.0,5.2 L0,5.2 A1.4,5.2 0 0 1 0,-5.2 Z" fill="#fcfefc" stroke="#444" stroke-width="1.1" stroke-linejoin="round"/><ellipse cx="0" cy="0" rx="1.4" ry="5.2" fill="#fcfefc" stroke="#444" stroke-width="1.1"/><ellipse cx="49.0" cy="0" rx="1.4" ry="5.2" fill="#fcfefc" stroke="#444" stroke-width="1.1"/></g><path d="M237.6,416.5 Q242.3,418.3 247,416.5" stroke="#777" stroke-width="0.9" fill="none" stroke-linejoin="round" stroke-linecap="round" /><path d="M237.6,419.2 Q242.3,421.1 247,419.2" stroke="#777" stroke-width="0.9" fill="none" stroke-linejoin="round" stroke-linecap="round" /><path d="M237.6,422.0 Q242.3,423.8 247,422.0" stroke="#777" stroke-width="0.9" fill="none" stroke-linejoin="round" stroke-linecap="round" /><path d="M237.6,424.8 Q242.3,426.6 247,424.8" stroke="#777" stroke-width="0.9" fill="none" stroke-linejoin="round" stroke-linecap="round" /><path d="M237.6,427.5 Q242.3,429.3 247,427.5" stroke="#777" stroke-width="0.9" fill="none" stroke-linejoin="round" stroke-linecap="round" /><path d="M237.6,430.2 Q242.3,432.1 247,430.2" stroke="#777" stroke-width="0.9" fill="none" stroke-linejoin="round" stroke-linecap="round" /><path d="M237.6,433.0 Q242.3,434.8 247,433.0" stroke="#777" stroke-width="0.9" fill="none" stroke-linejoin="round" stroke-linecap="round" /><path d="M237.6,435.8 Q242.3,437.6 247,435.8" stroke="#777" stroke-width="0.9" fill="none" stroke-linejoin="round" stroke-linecap="round" /><path d="M237.6,438.5 Q242.3,440.3 247,438.5" stroke="#777" stroke-width="0.9" fill="none" stroke-linejoin="round" stroke-linecap="round" /><path d="M237.6,441.2 Q242.3,443.1 247,441.2" stroke="#777" stroke-width="0.9" fill="none" stroke-linejoin="round" stroke-linecap="round" /><path d="M237.6,444.0 Q242.3,445.8 247,444.0" stroke="#777" stroke-width="0.9" fill="none" stroke-linejoin="round" stroke-linecap="round" /><path d="M237.6,446.8 Q242.3,448.6 247,446.8" stroke="#777" stroke-width="0.9" fill="none" stroke-linejoin="round" stroke-linecap="round" /><path d="M237.6,449.5 Q242.3,451.3 247,449.5" stroke="#777" stroke-width="0.9" fill="none" stroke-linejoin="round" stroke-linecap="round" /><path d="M237.6,452.2 Q242.3,454.1 247,452.2" stroke="#777" stroke-width="0.9" fill="none" stroke-linejoin="round" stroke-linecap="round" /><path d="M237.6,455.0 Q242.3,456.8 247,455.0" stroke="#777" stroke-width="0.9" fill="none" stroke-linejoin="round" stroke-linecap="round" /><path d="M237.6,457.8 Q242.3,459.6 247,457.8" stroke="#777" stroke-width="0.9" fill="none" stroke-linejoin="round" stroke-linecap="round" /><path d="M237.6,460.5 Q242.3,462.3 247,460.5" stroke="#777" stroke-width="0.9" fill="none" stroke-linejoin="round" stroke-linecap="round" /><path d="M237.6,463.2 Q242.3,465.1 247,463.2" stroke="#777" stroke-width="0.9" fill="none" stroke-linejoin="round" stroke-linecap="round" /><line x1="425.9" y1="182.8" x2="342.7" y2="231.5" stroke="#333" stroke-width="1.0" /><line x1="425.9" y1="234.4" x2="370.6" y2="266.4" stroke="#333" stroke-width="1.0" /><line x1="449.4" y1="262.5" x2="378.3" y2="304.8" stroke="#333" stroke-width="1.0" /><line x1="230.0" y1="222.2" x2="276.9" y2="248.8" stroke="#333" stroke-width="1.0" /><line x1="68.5" y1="284.0" x2="112.0" y2="308.0" stroke="#333" stroke-width="1.0" /><line x1="37.5" y1="389.0" x2="76.0" y2="368.0" stroke="#333" stroke-width="1.0" /><line x1="186.0" y1="419.5" x2="237.0" y2="441.0" stroke="#333" stroke-width="1.0" /><line x1="538.0" y1="382.0" x2="498.0" y2="426.0" stroke="#333" stroke-width="1.0" /><line x1="592.2" y1="414.5" x2="560.0" y2="446.0" stroke="#333" stroke-width="1.0" /><line x1="646.0" y1="443.0" x2="592.0" y2="475.0" stroke="#333" stroke-width="1.0" /><line x1="455.0" y1="485.0" x2="497.5" y2="461.5" stroke="#333" stroke-width="1.0" /><line x1="558.5" y1="539.5" x2="593.5" y2="519.5" stroke="#333" stroke-width="1.0" /><line x1="773.8" y1="532.5" x2="726.2" y2="559.5" stroke="#333" stroke-width="1.0" /><line x1="641.2" y1="582.0" x2="676.2" y2="562.5" stroke="#333" stroke-width="1.0" /><line x1="711.2" y1="616.2" x2="740.0" y2="598.8" stroke="#333" stroke-width="1.0" /><path d="M454.6,160.3 L464,166.5 L464,213.75 L474.7,219 L464.4,224 L464.4,278.4 L454.6,288.75" stroke="#4a4a4a" stroke-width="1.0" fill="none" stroke-linejoin="round" stroke-linecap="round" /><text x="429.43" y="181.6" font-family="&quot;Liberation Sans&quot;, sans-serif" font-weight="bold" font-size="21.7" fill="#111">13</text><rect x="430.00" y="178.09" width="4.25" height="4.51" fill="#fcfefc"/><rect x="437.72" y="178.09" width="4.21" height="4.51" fill="#fcfefc"/><text x="429.47" y="234.48" font-family="&quot;Liberation Sans&quot;, sans-serif" font-weight="bold" font-size="21.7" fill="#111">12</text><rect x="430.04" y="230.97" width="4.25" height="4.51" fill="#fcfefc"/><rect x="437.76" y="230.97" width="4.21" height="4.51" fill="#fcfefc"/><text x="481.9" y="223.71" font-family="&quot;Liberation Sans&quot;, sans-serif" font-weight="bold" font-size="21.7" fill="#111">14</text><rect x="482.47" y="220.20" width="4.25" height="4.51" fill="#fcfefc"/><rect x="490.19" y="220.20" width="4.21" height="4.51" fill="#fcfefc"/><text x="204.54" y="221.43" font-family="&quot;Liberation Sans&quot;, sans-serif" font-weight="bold" font-size="21.7" fill="#111">15</text><rect x="205.11" y="217.92" width="4.25" height="4.51" fill="#fcfefc"/><rect x="212.83" y="217.92" width="4.21" height="4.51" fill="#fcfefc"/><text x="44.43" y="287.07" font-family="&quot;Liberation Sans&quot;, sans-serif" font-weight="bold" font-size="21.7" fill="#111">16</text><rect x="45.00" y="283.56" width="4.25" height="4.51" fill="#fcfefc"/><rect x="52.72" y="283.56" width="4.21" height="4.51" fill="#fcfefc"/><text x="9.87" y="407.06" font-family="&quot;Liberation Sans&quot;, sans-serif" font-weight="bold" font-size="21.7" fill="#111">17</text><rect x="10.44" y="403.55" width="4.25" height="4.51" fill="#fcfefc"/><rect x="18.16" y="403.55" width="4.21" height="4.51" fill="#fcfefc"/><text x="157.92" y="420.67" font-family="&quot;Liberation Sans&quot;, sans-serif" font-weight="bold" font-size="21.7" fill="#111">18</text><rect x="158.49" y="417.16" width="4.25" height="4.51" fill="#fcfefc"/><rect x="166.21" y="417.16" width="4.21" height="4.51" fill="#fcfefc"/><text x="541.44" y="383.47" font-family="&quot;Liberation Sans&quot;, sans-serif" font-weight="bold" font-size="21.7" fill="#111">9</text><text x="594.23" y="414.81" font-family="&quot;Liberation Sans&quot;, sans-serif" font-weight="bold" font-size="21.7" fill="#111">7</text><text x="649.06" y="443.32" font-family="&quot;Liberation Sans&quot;, sans-serif" font-weight="bold" font-size="21.7" fill="#111">6</text><text x="440.81" y="505.32" font-family="&quot;Liberation Sans&quot;, sans-serif" font-weight="bold" font-size="21.7" fill="#111">8</text><text x="544.03" y="559.36" font-family="&quot;Liberation Sans&quot;, sans-serif" font-weight="bold" font-size="21.7" fill="#111">5</text><text x="777.62" y="533.08" font-family="&quot;Liberation Sans&quot;, sans-serif" font-weight="bold" font-size="21.7" fill="#111">2</text><text x="626.61" y="603.08" font-family="&quot;Liberation Sans&quot;, sans-serif" font-weight="bold" font-size="21.7" fill="#111">3</text><text x="695.66" y="635.41" font-family="&quot;Liberation Sans&quot;, sans-serif" font-weight="bold" font-size="21.7" fill="#111">1</text><rect x="696.23" y="631.90" width="4.25" height="4.51" fill="#fcfefc"/><rect x="703.95" y="631.90" width="4.21" height="4.51" fill="#fcfefc"/></svg></body></html>
